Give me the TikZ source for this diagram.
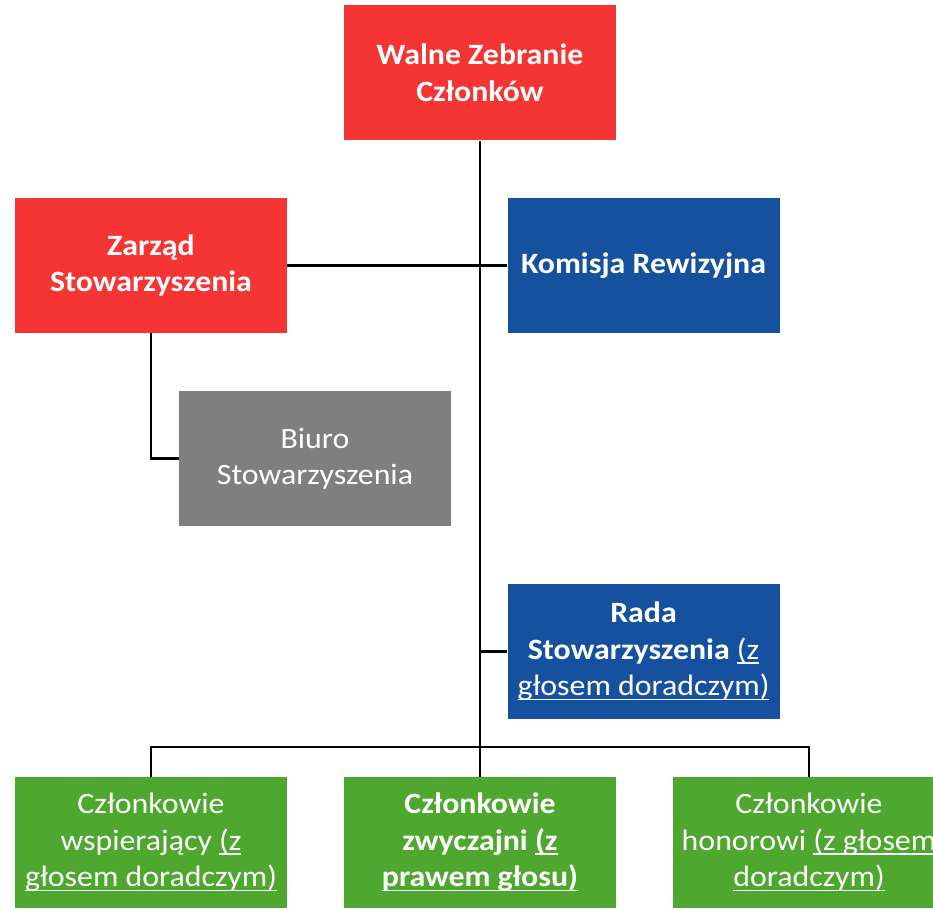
\documentclass[tikz,border=0pt]{standalone}
\usepackage{fontspec}
\setmainfont{Carlito}[FakeStretch=1.08]
\newcommand{\ulx}[1]{\begingroup\setbox0\hbox{#1}\rlap{\rule[-4.5pt]{\wd0}{1.6pt}}\box0\endgroup}
\definecolor{cred}{HTML}{F43533}
\definecolor{cblue}{HTML}{1651A0}
\definecolor{cgrey}{HTML}{7F7F7F}
\definecolor{cgreen}{HTML}{4EA72E}
\begin{document}
\begin{tikzpicture}[x=1pt,y=-1pt,
  box/.style={minimum width=272pt,minimum height=135pt,inner sep=0pt,align=center,text=white,
    font=\fontsize{29.5}{36.5}\selectfont},
  redbox/.style={box,fill=cred},
  bluebox/.style={box,fill=cblue},
  greybox/.style={box,fill=cgrey},
  greenbox/.style={box,fill=cgreen,minimum height=131pt},
  conn/.style={line width=2.5pt,black}]
\useasboundingbox (0,0) rectangle (933,909);
\clip (0,0) rectangle (933,909);
\node[redbox] (walne) at (480,73) {\bfseries Walne Zebranie\\ \bfseries Członków};
\node[redbox] (zarzad) at (151,265.5) {\bfseries Zarząd\\ \bfseries Stowarzyszenia};
\node[bluebox] (komisja) at (643.5,265.5) {\bfseries Komisja Rewizyjna};
\node[greybox] (biuro) at (315,458.5) {Biuro\\ Stowarzyszenia};
\node[bluebox] (rada) at (643.5,651.5) {\bfseries Rada\\ \textbf{Stowarzyszenia} \ulx{(z}\\ \ulx{głosem doradczym)}};
\node[greenbox] (cw) at (151,842.5) {Członkowie\\ wspierający \ulx{(z}\\ \ulx{głosem doradczym)}};
\node[greenbox] (cz) at (480,842.5) {\bfseries Członkowie\\ \textbf{zwyczajni} \ulx{\bfseries (z}\\ \ulx{\bfseries prawem głosu)}};
\node[greenbox] (ch) at (809,842.5) {Członkowie\\ honorowi \ulx{(z głosem}\\ \ulx{doradczym)}};
\coordinate (bus) at (480,747);
\draw[conn] (walne.south) -- (bus);
\draw[conn] (cw.north) |- (bus) -| (ch.north);
\draw[conn] (bus) -- (cz.north);
\draw[conn] (zarzad.east) -- (komisja.west);
\draw[conn] (zarzad.south) |- (biuro.west);
\draw[conn] (rada.west) -- (rada.west -| walne.south);
\end{tikzpicture}
\end{document}
